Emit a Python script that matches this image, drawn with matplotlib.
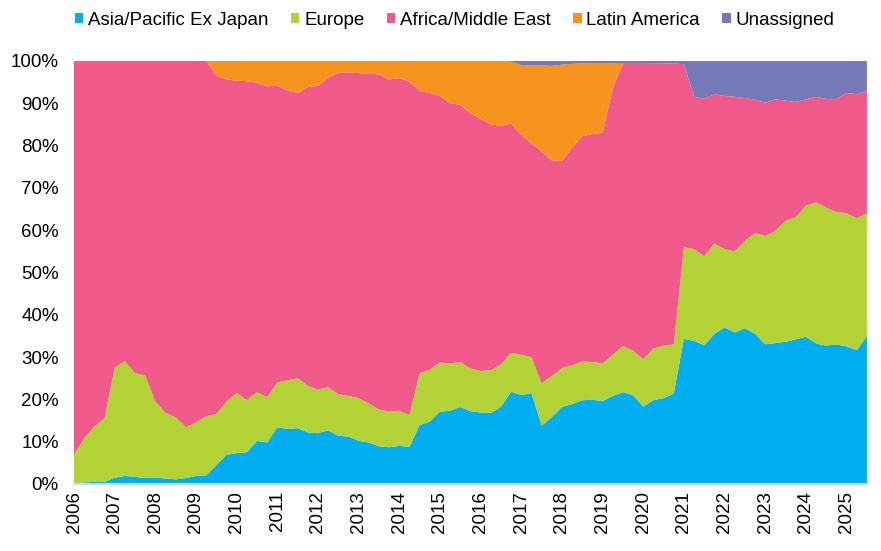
import numpy as np
import matplotlib.pyplot as plt
from matplotlib.patches import Patch

plt.rcParams['font.family'] = ['Liberation Sans', 'DejaVu Sans']

# quarterly observations, share of total (%)
quarters = np.arange(2006.0, 2025.51, 0.25)

asia = [0.3, 0.4, 0.5, 0.5, 1.5, 1.9, 1.7, 1.4, 1.5, 1.3, 1.1, 1.4, 1.9, 2.0,
        4.5, 6.9, 7.3, 7.5, 10.2, 9.8, 13.4, 13.0, 13.2, 12.2, 12.0, 12.7,
        11.4, 11.2, 10.2, 9.8, 8.9, 8.7, 9.0, 8.8, 13.9, 14.8, 17.1, 17.3,
        18.2, 17.2, 16.9, 16.8, 18.2, 21.8, 21.0, 21.5, 13.8, 15.8, 18.2, 18.9,
        19.8, 19.9, 19.6, 20.8, 21.7, 21.0, 18.3, 19.8, 20.3, 21.4, 34.3, 33.8,
        32.8, 35.5, 37.0, 35.8, 36.8, 35.5, 33.0, 33.3, 33.6, 34.2, 34.8, 33.2,
        32.7, 33.0, 32.5, 31.6, 35.0]

europe = [6.6, 10.4, 13.1, 15.0, 26.0, 27.1, 24.5, 24.2, 18.0, 15.5, 14.7, 12.0,
          12.7, 14.0, 12.0, 12.6, 14.2, 12.3, 11.5, 10.7, 10.6, 11.5, 11.8, 11.0,
          10.3, 10.2, 9.8, 9.6, 10.1, 9.2, 8.7, 8.4, 8.3, 7.5, 12.3, 12.2, 11.6,
          11.2, 10.6, 10.1, 9.8, 10.1, 10.1, 9.2, 9.5, 8.5, 10.0, 9.7, 9.2, 9.1,
          9.2, 8.9, 8.9, 9.8, 10.9, 10.5, 11.2, 12.2, 12.4, 11.6, 21.7, 21.7,
          21.0, 21.3, 18.5, 19.2, 20.7, 23.8, 25.6, 26.5, 28.6, 28.8, 31.0, 33.4,
          32.6, 31.3, 31.5, 31.2, 29.0]

africa_me = [93.1, 89.2, 86.4, 84.5, 72.5, 71.0, 73.8, 74.4, 80.5, 83.2, 84.2,
             86.6, 85.4, 84.0, 80.0, 76.1, 73.8, 75.4, 73.1, 73.5, 70.1, 68.5,
             67.4, 70.6, 71.8, 73.1, 76.0, 76.5, 76.8, 78.0, 79.2, 78.5, 78.6,
             78.8, 66.7, 65.4, 63.0, 61.5, 60.8, 60.3, 59.6, 58.1, 56.3, 54.2,
             52.0, 50.5, 54.8, 51.0, 48.9, 51.5, 53.2, 53.9, 54.5, 62.9, 66.7,
             67.8, 69.8, 67.3, 66.7, 66.4, 43.2, 36.0, 37.2, 35.3, 36.2, 36.5,
             33.7, 31.5, 31.5, 31.1, 28.4, 27.3, 25.1, 24.9, 25.7, 26.7, 28.4,
             29.3, 28.9]

latam = [0] * 14 + [3.5, 4.4, 4.7, 4.8, 5.2, 6.0, 5.9, 7.0, 7.6, 6.2, 5.9, 4.0,
                    2.8, 2.7, 2.9, 3.0, 3.2, 4.4, 4.1, 4.9, 7.1, 7.6, 8.3, 10.0,
                    10.4, 12.4, 13.7, 15.0, 15.4, 14.6, 16.5, 18.5, 20.3, 22.3,
                    22.8, 19.8, 17.2, 16.7, 16.4, 5.9] + [0] * 25

unassigned = [0] * 43 + [0.2, 1.0, 1.0, 1.1, 1.2, 0.9, 0.7, 0.6, 0.6, 0.6, 0.6,
                         0.7, 0.7, 0.7, 0.7, 0.6, 0.6, 0.8, 8.5, 9.0, 7.9, 8.3,
                         8.5, 8.8, 9.2, 9.9, 9.1, 9.4, 9.7, 9.1, 8.5, 9.0, 9.0,
                         7.6, 7.9, 7.1]

labels = ['Asia/Pacific Ex Japan', 'Europe', 'Africa/Middle East', 'Latin America', 'Unassigned']
colors = ['#00AEEF', '#B3D235', '#F05A8A', '#F7941D', '#7479B8']

fig = plt.figure(figsize=(8.81, 5.51), dpi=100)
ax = fig.add_axes([0.084, 0.1216, 0.900, 0.768])

ax.stackplot(quarters, asia, europe, africa_me, latam, unassigned,
             colors=colors, linewidth=0)

ax.set_xlim(2006, 2025.5)
ax.set_ylim(0, 100)
ax.set_yticks(range(0, 101, 10))
ax.set_yticklabels([f'{v}%' for v in range(0, 101, 10)], fontsize=13.5)
ax.set_xticks(range(2006, 2026))
ax.set_xticklabels([str(y) for y in range(2006, 2026)], rotation=90, fontsize=13.5)
ax.tick_params(axis='y', length=0, pad=11)
ax.tick_params(axis='x', length=0, pad=5)
for s in ['top', 'right', 'left']:
    ax.spines[s].set_visible(False)
ax.spines['bottom'].set_color('#D9D9D9')
ax.spines['bottom'].set_linewidth(1.5)

handles = [Patch(facecolor=c, edgecolor='none') for c in colors]
fig.legend(handles, labels, loc='center', bbox_to_anchor=(0.516, 0.963), ncol=5,
           frameon=False, fontsize=13.5, handlelength=0.45, handleheight=0.45,
           handletextpad=0.25, columnspacing=1.2)

fig.savefig('out.png', dpi=100)
